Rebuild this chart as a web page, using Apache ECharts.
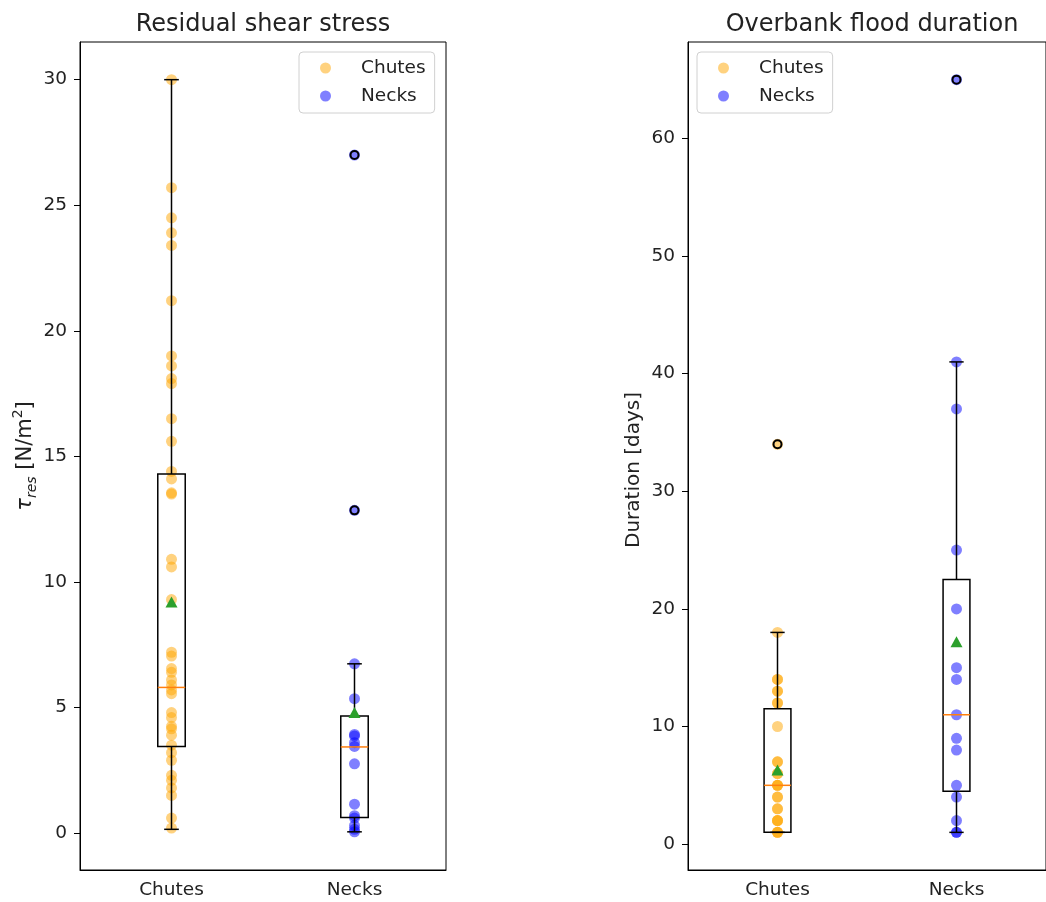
<!DOCTYPE html>
<html>
<head>
<meta charset="utf-8">
<script src="https://cdn.jsdelivr.net/npm/echarts@6/dist/echarts.min.js"></script>
<style>
  html, body { margin: 0; background: #fff; }
  #chart { width: 1046px; height: 902px; }
</style>
</head>
<body>
<div id="chart"></div>
<script>
const groups = ['Chutes', 'Necks']

// residual shear stress [N/m2], one value per site
const shearChutes = [30, 25.7, 24.5, 23.9, 23.4, 21.2, 19.0, 18.6, 18.1, 17.9, 16.5, 15.6, 14.4, 14.1,
  13.55, 13.5, 10.9, 10.6, 9.3, 7.2, 7.05, 6.55, 6.4, 6.1, 5.9, 5.7, 5.55, 4.8, 4.6, 4.25, 4.15,
  3.9, 3.5, 3.2, 2.9, 2.3, 2.1, 1.8, 1.5, 0.6, 0.2]
const shearNecks = [27, 12.85, 6.74, 5.35, 3.93, 3.87, 3.6, 3.45, 2.76, 1.15, 0.69, 0.6, 0.3, 0.15, 0.05]
// [low whisker, q1, median, q3, high whisker]
const shearBoxChutes = [0.15, 3.45, 5.8, 14.3, 30]
const shearBoxNecks = [0.05, 0.62, 3.43, 4.66, 6.74]
const shearMeans = [9.2, 4.8]
const shearOutChutes = []
const shearOutNecks = [12.85, 27]

// overbank flood duration [days]
const durChutes = [34, 18, 14, 14, 13, 13, 12, 12, 10, 7, 7, 6, 6, 5, 5, 5, 4, 4, 3, 3, 2, 2, 2, 1, 1, 1]
const durNecks = [65, 41, 37, 25, 20, 15, 14, 11, 9, 8, 5, 4, 2, 1, 1]
const durBoxChutes = [1, 1, 5, 11.5, 18]
const durBoxNecks = [1, 4.5, 11, 22.5, 41]
const durMeans = [6.3, 17.2]
const durOutChutes = [34]
const durOutNecks = [65]

const shearTicks = [0, 5, 10, 15, 20, 25, 30]
const durTicks = [0, 10, 20, 30, 40, 50, 60]

const FONT = 'DejaVu Sans'
const ORANGE = 'rgba(255,165,0,0.5)'
const BLUE = 'rgba(0,0,255,0.5)'

const chart = echarts.init(document.getElementById('chart'))

function renderBox(params, api) {
  const x = api.value(0)
  const lo = api.coord([x, api.value(1)])
  const q1 = api.coord([x, api.value(2)])
  const med = api.coord([x, api.value(3)])
  const q3 = api.coord([x, api.value(4)])
  const hi = api.coord([x, api.value(5)])
  const band = api.size([1, 0])[0]
  const bw = band * 0.15, cw = band * 0.08
  const cx = lo[0]
  const line = (x1, y1, x2, y2, color) => ({
    type: 'line', shape: { x1, y1, x2, y2 },
    style: { stroke: color || '#000', lineWidth: 1.5 }
  })
  return {
    type: 'group',
    children: [
      line(cx, hi[1], cx, q3[1]),
      line(cx, q1[1], cx, lo[1]),
      line(cx - cw / 2, hi[1], cx + cw / 2, hi[1]),
      line(cx - cw / 2, lo[1], cx + cw / 2, lo[1]),
      { type: 'rect', shape: { x: cx - bw / 2, y: q3[1], width: bw, height: q1[1] - q3[1] },
        style: { fill: 'none', stroke: '#000', lineWidth: 1.5 } },
      line(cx - bw / 2, med[1], cx + bw / 2, med[1], '#ff7f0e')
    ]
  }
}

const xAxisBase = (gridIndex) => ({
  type: 'category', gridIndex, data: groups,
  axisLine: { onZero: false, lineStyle: { color: '#000', width: 1 } },
  axisTick: { alignWithLabel: true, length: 6, lineStyle: { color: '#000' } },
  axisLabel: { color: '#222', fontSize: 18.5, fontFamily: FONT, margin: 11 },
  splitLine: { show: false }
})

const yAxisBase = (gridIndex, min, max, ticks) => ({
  type: 'value', gridIndex, min, max,
  axisLine: { show: true, onZero: false, lineStyle: { color: '#000', width: 1 } },
  axisTick: { show: true, length: 6, lineStyle: { color: '#000' }, customValues: ticks },
  axisLabel: { color: '#222', fontSize: 18.5, fontFamily: FONT, margin: 13, customValues: ticks },
  splitLine: { show: false },
  nameLocation: 'middle'
})

const scatter = (name, idx, vals, gi, color) => ({
  name, type: 'scatter', xAxisIndex: gi, yAxisIndex: gi, z: 2,
  symbolSize: 11, itemStyle: { color, opacity: 1 },
  data: vals.map(v => [idx, v])
})

const outliers = (idx, vals, gi) => ({
  type: 'scatter', xAxisIndex: gi, yAxisIndex: gi, z: 4,
  symbolSize: 8, itemStyle: { color: 'rgba(0,0,0,0)', borderColor: '#000', borderWidth: 2, opacity: 1 },
  data: vals.map(v => [idx, v])
})

const means = (vals, gi) => ({
  type: 'scatter', xAxisIndex: gi, yAxisIndex: gi, z: 5,
  symbol: 'triangle', symbolSize: [12, 11], itemStyle: { color: '#2ca02c', opacity: 1 },
  data: vals.map((v, i) => [i, v])
})

const boxes = (a, b, gi) => ({
  type: 'custom', xAxisIndex: gi, yAxisIndex: gi, z: 3,
  renderItem: renderBox,
  data: [[0, ...a], [1, ...b]]
})

const legendBase = (left) => ({
  left, top: 52, orient: 'vertical',
  data: groups, selectedMode: false,
  icon: 'circle', itemWidth: 11, itemHeight: 11, itemGap: 8,
  padding: [6, 9, 7, 21],
  borderColor: '#d0d0d0', borderWidth: 1, borderRadius: 4,
  textStyle: { fontSize: 18.5, fontFamily: FONT, color: '#222', padding: [0, 0, 0, 25], lineHeight: 20 }
})

const option = {
  backgroundColor: '#fff',
  animation: false,
  grid: [
    { left: 80, top: 42, width: 366, height: 828, show: true, borderColor: '#000', borderWidth: 1 },
    { left: 688, top: 42, width: 366, height: 828, show: true, borderColor: '#000', borderWidth: 1 }
  ],
  graphic: [
    { type: 'text', x: 263, y: 25, style: { text: 'Residual shear stress', fontSize: 24, fontFamily: FONT,
      fill: '#222', align: 'center', verticalAlign: 'middle' } },
    { type: 'text', x: 872, y: 25, style: { text: 'Overbank flood duration', fontSize: 24, fontFamily: FONT,
      fill: '#222', align: 'center', verticalAlign: 'middle' } }
  ],
  legend: [legendBase(299), legendBase(697)],
  xAxis: [xAxisBase(0), xAxisBase(1)],
  yAxis: [
    Object.assign(yAxisBase(0, -1.47, 31.5, shearTicks), {
      name: '{t|τ}{s|res} [N/m{p|2}]', nameGap: 39,
      nameTextStyle: {
        fontSize: 21, fontFamily: FONT, color: '#222', lineHeight: 28,
        rich: {
          t: { fontSize: 21, fontStyle: 'italic', fontFamily: FONT, lineHeight: 28 },
          s: { fontSize: 14, fontStyle: 'italic', fontFamily: FONT, verticalAlign: 'bottom', lineHeight: 15 },
          p: { fontSize: 14, fontFamily: FONT, verticalAlign: 'top', lineHeight: 15 }
        }
      }
    }),
    Object.assign(yAxisBase(1, -2.2, 68.2, durTicks), {
      name: 'Duration [days]', nameGap: 44,
      nameTextStyle: { fontSize: 20, fontFamily: FONT, color: '#222', padding: [0, 28, 0, 0] }
    })
  ],
  series: [
    scatter('Chutes', 0, shearChutes, 0, ORANGE),
    scatter('Necks', 1, shearNecks, 0, BLUE),
    boxes(shearBoxChutes, shearBoxNecks, 0),
    outliers(0, shearOutChutes, 0),
    outliers(1, shearOutNecks, 0),
    means(shearMeans, 0),

    scatter('Chutes', 0, durChutes, 1, ORANGE),
    scatter('Necks', 1, durNecks, 1, BLUE),
    boxes(durBoxChutes, durBoxNecks, 1),
    outliers(0, durOutChutes, 1),
    outliers(1, durOutNecks, 1),
    means(durMeans, 1)
  ]
}

chart.setOption(option)
window.addEventListener('resize', () => chart.resize())
</script>
</body>
</html>
